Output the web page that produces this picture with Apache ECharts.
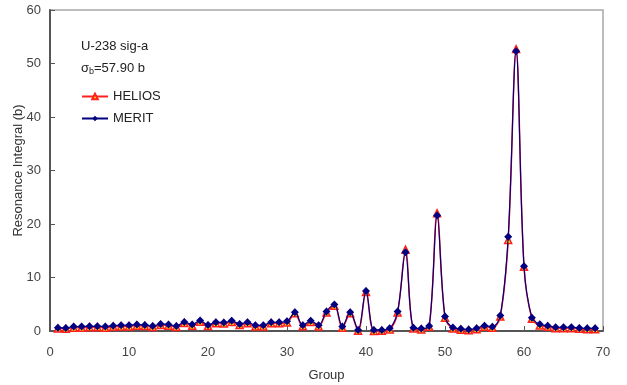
<!DOCTYPE html>
<html>
<head>
<meta charset="utf-8">
<script src="https://cdn.jsdelivr.net/npm/echarts@6/dist/echarts.min.js"></script>
<style>
  html, body { margin: 0; padding: 0; background: #fff; }
  #main { width: 627px; height: 385px; }
</style>
</head>
<body>
<div id="main"></div>
<script>
const groups = [];
for (let g = 1; g <= 69; g++) groups.push(g);

const merit = [
  0.63, 0.57, 0.82, 0.82, 0.88, 0.88, 0.82, 1.0, 1.07, 1.07,
  1.2, 1.13, 0.94, 1.32, 1.2, 0.94, 1.7, 1.2, 1.95, 1.13,
  1.64, 1.57, 1.9, 1.32, 1.64, 1.07, 1.07, 1.64, 1.64, 1.82,
  3.5, 1.07, 1.9, 1.07, 3.65, 4.95, 0.82, 3.5, 0.2, 7.5,
  0.2, 0.2, 0.5, 3.65, 14.7, 0.63, 0.45, 0.95, 21.6, 2.7,
  0.65, 0.4, 0.3, 0.5, 1.0, 0.8, 2.9, 17.6, 52.3, 12.1,
  2.5, 1.25, 1.0, 0.7, 0.7, 0.7, 0.55, 0.5, 0.5
];
const helios = [
  0.45, 0.4, 0.6, 0.6, 0.7, 0.7, 0.6, 0.8, 0.85, 0.85,
  1.0, 0.95, 0.75, 1.1, 1.0, 0.75, 1.5, 1.0, 1.75, 0.95,
  1.45, 1.4, 1.7, 1.1, 1.45, 0.85, 0.85, 1.45, 1.45, 1.6,
  3.3, 0.9, 1.7, 0.85, 3.45, 4.7, 0.6, 3.3, 0.05, 7.3,
  0.0, 0.05, 0.3, 3.45, 15.2, 0.45, 0.3, 0.8, 22.0, 2.5,
  0.45, 0.25, 0.15, 0.35, 0.8, 0.6, 2.7, 17.0, 52.7, 12.0,
  2.3, 1.05, 0.8, 0.5, 0.5, 0.5, 0.4, 0.35, 0.35
];

const xTicks = [0, 10, 20, 30, 40, 50, 60, 70];
const yTicks = [0, 10, 20, 30, 40, 50, 60];

const font = 'Liberation Sans, Arial, sans-serif';
const chart = echarts.init(document.getElementById('main'));

chart.setOption({
  animation: false,
  textStyle: { fontFamily: font },
  grid: {
    left: 50, right: 24, top: 10, bottom: 54,
    outerBoundsMode: 'none', containLabel: false,
    show: true, borderColor: '#a8a8a8', borderWidth: 1.5
  },
  title: [{
    text: 'U-238 sig-a',
    left: 76, top: 35,
    textStyle: { fontSize: 13, fontWeight: 'normal', color: '#222', fontFamily: font }
  }, {
    text: 'σ{s|b}=57.90 b',
    left: 76, top: 56,
    textStyle: {
      fontSize: 13, fontWeight: 'normal', color: '#222', fontFamily: font,
      rich: { s: { fontSize: 9, padding: [6, 0, 0, 0], color: '#222' } }
    }
  }],
  legend: {
    orient: 'vertical', left: 76, top: 85,
    itemWidth: 26, itemHeight: 7, itemGap: 9,
    textStyle: { fontSize: 13, color: '#222', fontFamily: font },
    data: ['HELIOS', 'MERIT']
  },
  xAxis: {
    type: 'value', min: 0, max: 70, interval: 10,
    name: 'Group', nameLocation: 'middle', nameGap: 38,
    nameTextStyle: { fontSize: 13, color: '#333' },
    axisLine: { lineStyle: { color: '#555', width: 2 } },
    axisTick: { inside: true, length: 5, lineStyle: { color: '#555' } },
    axisLabel: { fontSize: 13, color: '#444', margin: 15,
      customValues: xTicks },
    splitLine: { show: false }
  },
  yAxis: {
    type: 'value', min: 0, max: 60, interval: 10,
    name: 'Resonance Integral (b)', nameLocation: 'middle', nameGap: 25,
    nameMoveOverlap: false,
    nameTextStyle: { fontSize: 13, color: '#333' },
    axisLine: { show: true, lineStyle: { color: '#555', width: 2 } },
    axisTick: { show: true, inside: true, length: 5, lineStyle: { color: '#555' } },
    axisLabel: { fontSize: 13, color: '#444', margin: 9, customValues: yTicks },
    splitLine: { show: false }
  },
  series: [{
    name: 'HELIOS', type: 'line', smooth: 0.35,
    data: groups.map((g, i) => [g, helios[i]]),
    symbol: 'triangle', symbolSize: 7,
    lineStyle: { color: '#ff2020', width: 1.5 },
    itemStyle: { color: '#ffee00', borderColor: '#ff2020', borderWidth: 1.5 },
    z: 2
  }, {
    name: 'MERIT', type: 'line', smooth: 0.35,
    data: groups.map((g, i) => [g, merit[i]]),
    symbol: 'diamond', symbolSize: 8,
    lineStyle: { color: '#000080', width: 1.2 },
    itemStyle: { color: '#000080', borderColor: '#000080', borderWidth: 0 },
    z: 3
  }]
});
</script>
</body>
</html>
